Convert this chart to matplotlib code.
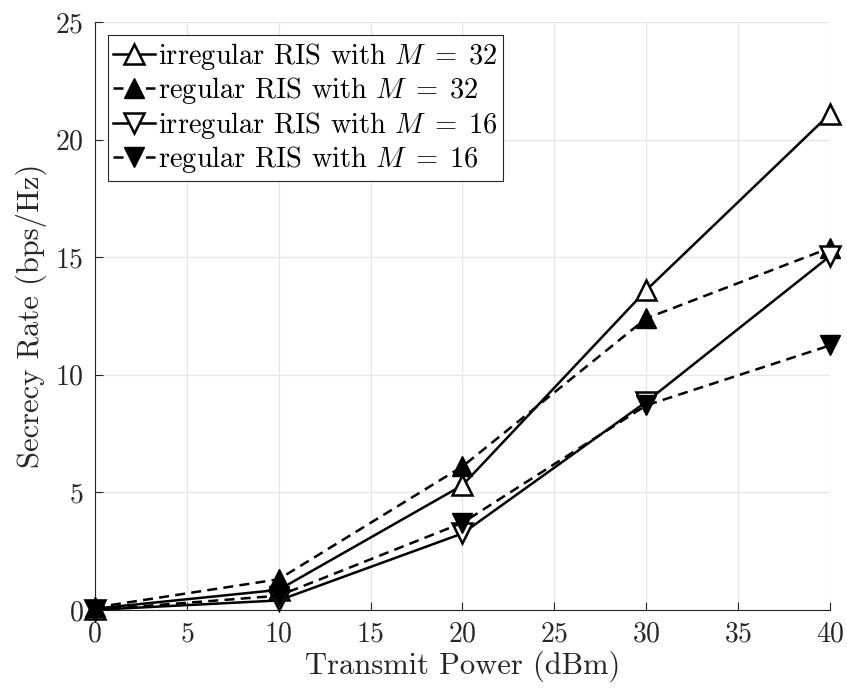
import matplotlib
matplotlib.use("Agg")
import matplotlib.pyplot as plt

plt.rcParams['font.family'] = 'serif'
plt.rcParams['font.serif'] = ['cmr10']
plt.rcParams['mathtext.fontset'] = 'cm'
plt.rcParams['axes.formatter.use_mathtext'] = True

power = [0, 10, 20, 30, 40]
irr32 = [0.05, 0.85, 5.3, 13.6, 21.1]
reg32 = [0.1, 1.3, 6.1, 12.4, 15.4]
irr16 = [0.0, 0.4, 3.25, 8.85, 15.05]
reg16 = [0.0, 0.6, 3.7, 8.7, 11.25]

labels = [r'irregular RIS with $M\;=\;32$', r'regular RIS with $M\;=\;32$',
          r'irregular RIS with $M\;=\;16$', r'regular RIS with $M\;=\;16$']

fig = plt.figure(figsize=(8.47, 6.93), dpi=100)
ax = fig.add_axes([0.112, 0.120, 0.868, 0.848])

ms = 14.5
lw = 1.8
kw = dict(color='k', lw=lw, ms=ms, mec='k', clip_on=False, zorder=3)
ax.plot(power, irr32, '-', marker='^', mfc='white', mew=1.8, label=labels[0], **kw)
ax.plot(power, reg32, '--', marker='^', mfc='k', label=labels[1], dashes=(4, 2.5), **kw)
ax.plot(power, irr16, '-', marker='v', mfc='white', mew=1.8, label=labels[2], **kw)
ax.plot(power, reg16, '--', marker='v', mfc='k', label=labels[3], dashes=(4, 2.5), **kw)

ax.set_xlim(0, 40)
ax.set_ylim(0, 25)
ax.set_xticks([0, 5, 10, 15, 20, 25, 30, 35, 40])
ax.set_yticks([0, 5, 10, 15, 20, 25])
ax.grid(True, color='#e6e6e6', lw=0.9)
ax.set_axisbelow(True)
for s in ['top', 'right']:
    ax.spines[s].set_visible(False)
for s in ['left', 'bottom']:
    ax.spines[s].set_color('#262626')
    ax.spines[s].set_linewidth(0.8)
ax.tick_params(direction='in', length=6, width=0.8, colors='#262626', labelsize=20, pad=8)
for t in ax.get_xticklabels() + ax.get_yticklabels():
    t.set_color('#262626')

ax.set_xlabel('Transmit Power (dBm)', fontsize=22, color='#262626', labelpad=2)
ax.set_ylabel('Secrecy Rate (bps/Hz)', fontsize=22, color='#262626', labelpad=6)

leg = ax.legend(loc='upper left', fontsize=20.5, frameon=True, fancybox=False,
                edgecolor='#262626', framealpha=1, handlelength=1.45, handletextpad=0.1,
                borderpad=0.2, labelspacing=0.12, borderaxespad=0.45)
leg.get_frame().set_linewidth(0.8)

fig.savefig('out.png', dpi=100)
